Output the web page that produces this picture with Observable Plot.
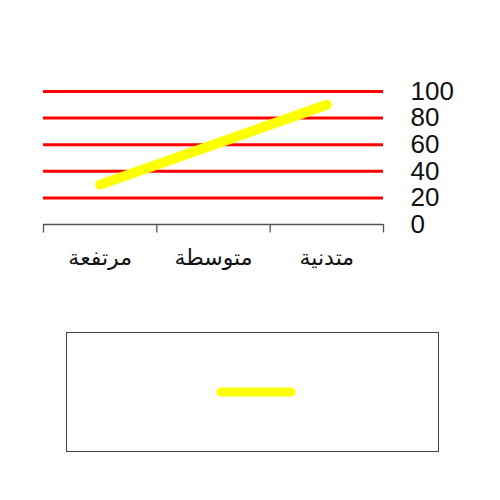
<!DOCTYPE html>
<html>
<head>
<meta charset="utf-8">
<script src="https://cdn.jsdelivr.net/npm/d3@7"></script>
<script src="https://cdn.jsdelivr.net/npm/@observablehq/plot@0.6"></script>
<style>
  body { margin: 0; background: #fff; font-family: "Liberation Sans", Arial, "DejaVu Sans", sans-serif; }
  #legend { margin-left: 66px; margin-top: 42px; width: 371px; height: 118px; border: 1.5px solid #444; position: relative; }
</style>
</head>
<body>
<div id="chart"></div>
<div id="legend"></div>
<script>
const categories = ["مرتفعة", "متوسطة", "متدنية"];
const values = [30, 60, 90];
const gridLevels = [20, 40, 60, 80, 100];
const yTicks = [0, 20, 40, 60, 80, 100];
const legendColor = "yellow";

const data = categories.map((c, i) => ({cat: c, pos: i + 0.5, val: values[i]}));

const plot = Plot.plot({
  width: 500,
  height: 290,
  marginLeft: 43,
  marginRight: 117,
  marginTop: 91,
  marginBottom: 66,
  style: {fontFamily: "'Liberation Sans', Arial, 'DejaVu Sans', sans-serif", background: "white"},
  x: {domain: [0, categories.length], label: null},
  y: {domain: [0, 100], label: null},
  marks: [
    Plot.ruleY(gridLevels, {stroke: "red", strokeWidth: 3}),
    Plot.line(data, {x: "pos", y: "val", stroke: legendColor, strokeWidth: 10, strokeLinecap: "round"}),
    Plot.ruleY([0], {stroke: "#555", strokeWidth: 1.3}),
    Plot.axisX({ticks: d3.range(categories.length + 1), tickFormat: () => "", tickSize: 8.5, stroke: "#555", strokeWidth: 1.3, label: null}),
    Plot.axisX({ticks: data.map(d => d.pos), tickFormat: (p) => categories[Math.floor(p)], tickSize: 0, tickPadding: 25, fontSize: 22, fill: "#111", label: null}),
    Plot.axisY({anchor: "right", ticks: yTicks, tickSize: 0, tickPadding: 27, fontSize: 26, fill: "#111", label: null})
  ]
});
document.getElementById("chart").appendChild(plot);

const ns = "http://www.w3.org/2000/svg";
const lsvg = document.createElementNS(ns, "svg");
lsvg.setAttribute("width", 371);
lsvg.setAttribute("height", 118);
const ln = document.createElementNS(ns, "line");
ln.setAttribute("x1", 154); ln.setAttribute("x2", 224);
ln.setAttribute("y1", 59); ln.setAttribute("y2", 59);
ln.setAttribute("stroke", legendColor);
ln.setAttribute("stroke-width", 9);
ln.setAttribute("stroke-linecap", "round");
lsvg.appendChild(ln);
document.getElementById("legend").appendChild(lsvg);
</script>
</body>
</html>
